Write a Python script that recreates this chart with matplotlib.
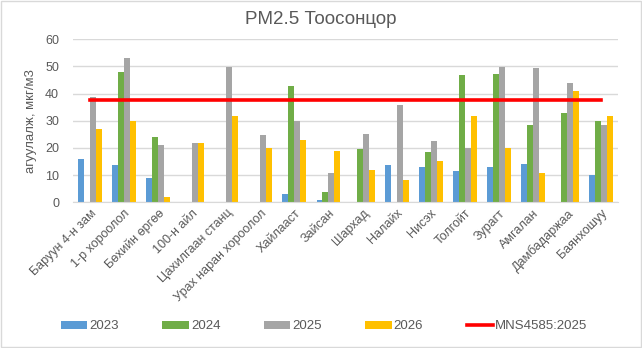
import numpy as np
import matplotlib.pyplot as plt
from matplotlib.patches import Rectangle

plt.rcParams['font.family'] = ['Liberation Sans', 'DejaVu Sans']

# Өгөгдөл
stations = ["Баруун 4-н зам", "1-р хороолол", "Бөхийн өргөө", "100-н айл",
            "Цахилгаан станц", "Урах наран хороолол", "Хайлааст", "Зайсан",
            "Шархад", "Налайх", "Нисэх", "Толгойт", "Зурагт", "Амгалан",
            "Дамбадаржаа", "Баянхошуу"]
y2023 = [16, 13.8, 9, 0, 0, 0, 3, 0.8, 0, 13.8, 13, 11.5, 13, 14.1, 0, 10]
y2024 = [0, 48, 24, 0, 0, 0, 42.8, 3.8, 19.7, 0, 18.6, 46.8, 47.2, 28.5, 33, 30]
y2025 = [38.8, 53.1, 21.2, 21.9, 49.8, 24.8, 30, 10.8, 25.2, 35.8, 22.5, 20, 49.8, 49.4, 44, 28.3]
y2026 = [27, 30, 2.1, 21.9, 31.9, 20, 22.9, 18.9, 11.9, 8.3, 15.3, 31.9, 20, 10.8, 40.9, 31.9]
mns = [37.5] * len(stations)

series = [("2023", y2023, "#5b9bd5"), ("2024", y2024, "#70ad47"),
          ("2025", y2025, "#a5a5a5"), ("2026", y2026, "#ffc000")]

txt = "#595959"
grid = "#d9d9d9"

fig = plt.figure(figsize=(6.42, 3.48), dpi=100)
fig.patches.append(Rectangle((0.001, 0.002), 0.997, 0.995, transform=fig.transFigure,
                             fill=False, edgecolor=grid, linewidth=1))
ax = fig.add_axes([0.1137, 0.4187, 0.849, 0.4683])

x = np.arange(len(stations))
w = 0.176
handles = []
for i, (name, vals, col) in enumerate(series):
    b = ax.bar(x + (i - 1.5) * w, vals, w, color=col, label=name, zorder=2)
    handles.append(b)
ln, = ax.plot(x, mns, color="#ff0000", linewidth=2.6, label="MNS4585:2025", zorder=3)
handles.append(ln)

ax.set_xlim(-0.5, len(stations) - 0.5)
ax.set_ylim(0, 60)
ax.set_yticks(range(0, 61, 10))
ax.grid(axis="y", color=grid, linewidth=1, zorder=0)
for s in ["top", "right", "left"]:
    ax.spines[s].set_visible(False)
ax.spines["bottom"].set_color(grid)
ax.tick_params(length=0, colors=txt, labelsize=9)
ax.tick_params(axis="y", pad=10)
ax.set_xticks(x)
ax.set_xticklabels(stations, rotation=45, ha="right", rotation_mode="anchor", color=txt)
ax.set_ylabel("агуулалж, мкг/м3", color=txt, fontsize=9.5, labelpad=6)

fig.text(0.5, 0.945, "PM2.5 Тоосонцор", ha="center", va="center", fontsize=13.5, color=txt)

fig.legend(handles, [h.get_label() for h in handles], loc="center",
           bbox_to_anchor=(0.505, 0.062), ncol=5, frameon=False,
           fontsize=9.5, labelcolor=txt, handlelength=2.0, handleheight=0.5,
           handletextpad=0.15, columnspacing=3.3)

fig.savefig("out.png", dpi=100)
